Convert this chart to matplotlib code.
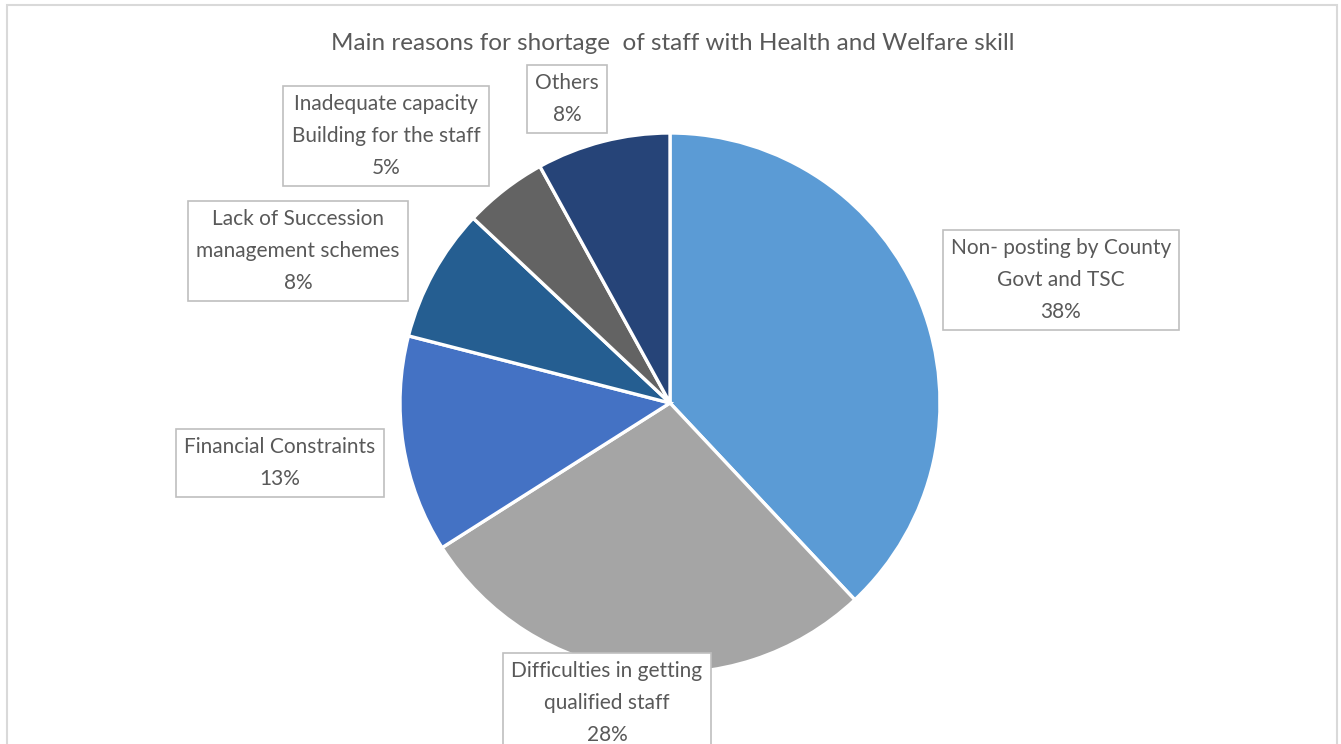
import matplotlib
matplotlib.use('Agg')
import matplotlib.pyplot as plt
from matplotlib.patches import Rectangle

# reasons and shares (%)
reasons = ['Non- posting by County\nGovt and TSC',
           'Difficulties in getting\nqualified staff',
           'Financial Constraints',
           'Lack of Succession\nmanagement schemes',
           'Inadequate capacity\nBuilding for the staff',
           'Others']
shares = [38, 28, 13, 8, 5, 8]
colors = ['#5B9BD5', '#A5A5A5', '#4472C4', '#255E91', '#636363', '#264478']

# label box centres in pixels (x, y from top)
label_pos = [(1061, 280), (607, 703), (280, 463), (298, 251), (386, 136), (567, 99)]

W, H = 1341, 744
plt.rcParams['font.family'] = ['Lato', 'DejaVu Sans']
fig = plt.figure(figsize=(W / 100, H / 100), dpi=100)

# chart border
fig.patches.append(Rectangle((6.5 / W, -0.05), (1330 / W), (739 + 37) / H / 1.0,
                             transform=fig.transFigure, fill=False,
                             edgecolor='#D9D9D9', linewidth=1.5))

cx, cy, r = 670, 403, 270
ax = fig.add_axes([(cx - r) / W, (H - cy - r) / H, 2 * r / W, 2 * r / H])
ax.pie(shares, colors=colors, startangle=90, counterclock=False,
       wedgeprops=dict(edgecolor='white', linewidth=2.4))
ax.set_xlim(-1, 1)
ax.set_ylim(-1, 1)
ax.set_aspect('equal')
ax.axis('off')

for name, val, (px, py) in zip(reasons, shares, label_pos):
    fig.text(px / W, 1 - py / H, '%s\n%d%%' % (name, val),
             ha='center', va='center', fontsize=15, color='#595959',
             linespacing=1.75,
             bbox=dict(boxstyle='square,pad=0.4', facecolor='white',
                       edgecolor='#BFBFBF', linewidth=1.2))

fig.text(673 / W, 1 - 43 / H,
         'Main reasons for shortage  of staff with Health and Welfare skill',
         ha='center', va='center', fontsize=17.5, color='#595959')

fig.savefig('out.png', dpi=100)
